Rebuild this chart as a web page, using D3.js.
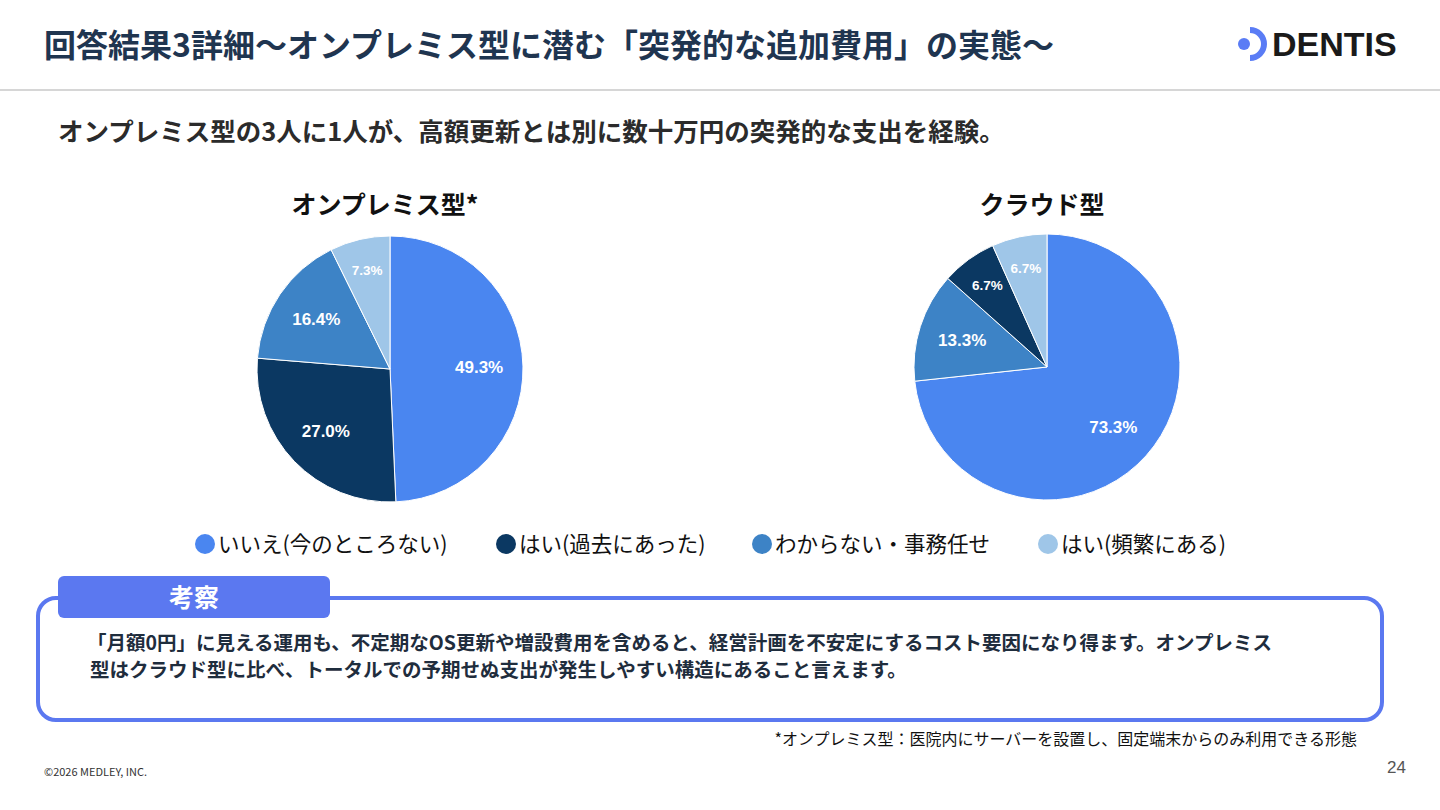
<!DOCTYPE html><html><head><meta charset="utf-8"><script src="https://cdn.jsdelivr.net/npm/d3@7"></script>
<style>body{margin:0;background:#fff;font-family:"Noto Sans CJK JP","Noto Sans",sans-serif}</style></head><body><svg id="c" width="1440" height="810"></svg><script>
const categories=["いいえ(今のところない)","はい(過去にあった)","わからない・事務任せ","はい(頻繁にある)"];
const colors=["#4a86f0","#0b3862","#3d83c6","#9fc6e8"];
const onpremOrder=[0,1,2,3], onpremValues=[49.3,27.0,16.4,7.3];
const cloudOrder=[0,2,1,3], cloudValues=[73.3,13.3,6.7,6.7];
const svg=d3.select("#c");
const F='"Noto Sans CJK JP",sans-serif';
function t(x,y,s,size,w,fill,anchor,fam){return svg.append("text").attr("x",x).attr("y",y).text(s).attr("font-size",size).attr("font-weight",w||700).attr("fill",fill||"#1f2d3d").attr("text-anchor",anchor||"start").attr("font-family",fam||F);}
t(44,57,"回答結果3詳細〜オンプレミス型に潜む「突発的な追加費用」の実態〜",32,700,"#1f3550");
svg.append("line").attr("x1",0).attr("x2",1440).attr("y1",90).attr("y2",90).attr("stroke","#d6d6d6").attr("stroke-width",2);
svg.append("circle").attr("cx",1244).attr("cy",44).attr("r",6).attr("fill","#5a7cf5");
svg.append("path").attr("d","M1250,27 A17,17 0 0 1 1250,61 L1250,55 A11,11 0 0 0 1250,33 Z").attr("fill","#5a7cf5");
t(1272,56,"DENTIS",34,700,"#1a1a1a","start","Liberation Sans, Arial");
t(58,141,"オンプレミス型の3人に1人が、高額更新とは別に数十万円の突発的な支出を経験。",25.5,700,"#2b2b2b");
function pie(cx,cy,r,order,vals,title){
 t(cx-5,214,title,25,700,"#111","middle");
 const data=vals.map((v,i)=>({v,c:order[i]}));
 const arcs=d3.pie().sort(null).value(d=>d.v)(data);
 const arc=d3.arc().innerRadius(0).outerRadius(r);
 const g=svg.append("g").attr("transform",`translate(${cx},${cy})`);
 g.selectAll("path").data(arcs).join("path").attr("d",arc).attr("fill",d=>colors[d.data.c]).attr("stroke","#fff").attr("stroke-width",1);
 const la=d3.arc().innerRadius(r*0.67).outerRadius(r*0.67);
 const ls=d3.arc().innerRadius(r*0.76).outerRadius(r*0.76);
 g.selectAll("text").data(arcs).join("text").attr("transform",d=>`translate(${(d.data.v<10?ls:la).centroid(d)})`).attr("dy","0.35em")
  .attr("text-anchor","middle").attr("fill","#fff").attr("font-weight",700).attr("font-family","Liberation Sans, Arial")
  .attr("font-size",d=>d.data.v<10?13.5:17).text(d=>d.data.v.toFixed(1)+"%");
}
pie(390,369,133,onpremOrder,onpremValues,"オンプレミス型*");
pie(1047,367,133,cloudOrder,cloudValues,"クラウド型");
const lx=[205,506,762,1048];
categories.forEach((c,i)=>{svg.append("circle").attr("cx",lx[i]).attr("cy",544).attr("r",10).attr("fill",colors[i]);t(lx[i]+13,552,c,21.5,400,"#111");});
svg.append("rect").attr("x",38).attr("y",598).attr("width",1344).attr("height",122).attr("rx",18).attr("fill","none").attr("stroke","#5b78f0").attr("stroke-width",4);
svg.append("rect").attr("x",58).attr("y",576).attr("width",272).attr("height",42).attr("rx",6).attr("fill","#5b78f0");
t(194,607,"考察",25,700,"#fff","middle");
t(87,650,"「月額0円」に見える運用も、不定期なOS更新や増設費用を含めると、経営計画を不安定にするコスト要因になり得ます。オンプレミス",19.5,700,"#1f2d3d");
t(90,677,"型はクラウド型に比べ、トータルでの予期せぬ支出が発生しやすい構造にあること言えます。",19.5,700,"#1f2d3d");
t(1357,745,"*オンプレミス型：医院内にサーバーを設置し、固定端末からのみ利用できる形態",16,400,"#111","end");
t(44,776,"©2026 MEDLEY, INC.",11,400,"#333");
t(1406,773,"24",17,400,"#555","end","Liberation Sans, Arial");
</script></body></html>
